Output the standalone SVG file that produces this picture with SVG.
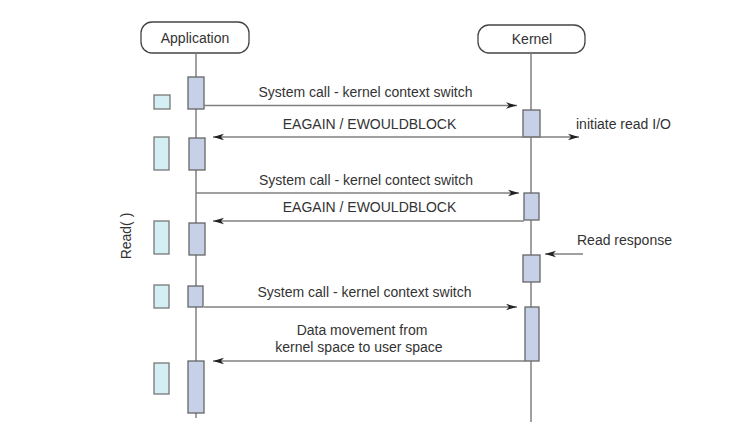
<svg xmlns="http://www.w3.org/2000/svg" width="734" height="433" viewBox="0 0 734 433">
<defs>
<style>
text{font-family:"Liberation Sans",Arial,sans-serif;font-size:14px;fill:#333}
.head{fill:#fff;stroke:#444;stroke-width:1.3}
.life{stroke:#808080;stroke-width:1.5;fill:none}
.act{fill:#c6d1e8;stroke:#666;stroke-width:1.3}
.idle{fill:#d4eff3;stroke:#777;stroke-width:1.3}
.msg{stroke:#808080;stroke-width:1.4;fill:none}
.mid{text-anchor:middle}
</style>
<marker id="arr" markerUnits="userSpaceOnUse" markerWidth="14" markerHeight="10" viewBox="-12 -5 14 10" refX="0" refY="0" orient="auto-start-reverse">
<path d="M0,0 L-11,-3.2 L-8,0 L-11,3.2 Z" fill="#222"/>
</marker>
</defs>
<rect width="734" height="433" fill="#fff"/>

<g id="application">
<rect class="head" x="141" y="22" width="108" height="31" rx="11"/>
<text class="mid" x="195" y="43">Application</text>
<line class="life" x1="196" y1="53" x2="196" y2="418"/>
</g>
<g id="kernel">
<rect class="head" x="478" y="25" width="107" height="28" rx="11"/>
<text class="mid" x="532" y="44">Kernel</text>
<line class="life" x1="531" y1="53" x2="531" y2="422"/>
</g>

<g id="app-activations">
<rect class="act" x="188" y="77" width="16" height="32"/>
<rect class="act" x="189" y="138" width="16" height="32"/>
<rect class="act" x="189" y="223" width="16" height="32"/>
<rect class="act" x="188" y="286" width="15" height="21"/>
<rect class="act" x="188" y="361" width="16" height="52"/>
</g>
<g id="idle-blocks">
<rect class="idle" x="154" y="95" width="16" height="14"/>
<rect class="idle" x="154" y="137" width="15" height="33"/>
<rect class="idle" x="154" y="221" width="15" height="33"/>
<rect class="idle" x="154" y="285" width="15" height="23"/>
<rect class="idle" x="154" y="363" width="15" height="31"/>
</g>
<g id="kernel-activations">
<rect class="act" x="523" y="110" width="17" height="27"/>
<rect class="act" x="524" y="193" width="15" height="27"/>
<rect class="act" x="523" y="255" width="17" height="27"/>
<rect class="act" x="525" y="307" width="14" height="54"/>
</g>

<g id="connectors">
<path class="msg" d="M204,105.5 H517" marker-end="url(#arr)"/>
<path class="msg" d="M213,137 H579" marker-start="url(#arr)" marker-end="url(#arr)"/>
<path class="msg" d="M196,193 H519" marker-end="url(#arr)"/>
<path class="msg" d="M524,221 H213" marker-end="url(#arr)"/>
<path class="msg" d="M583,254 H545" marker-end="url(#arr)"/>
<path class="msg" d="M204,307 H517" marker-end="url(#arr)"/>
<path class="msg" d="M525,361 H213" marker-end="url(#arr)"/>
</g>

<g id="labels">
<text class="mid" x="365.5" y="97">System call - kernel context switch</text>
<text class="mid" x="369.5" y="129">EAGAIN / EWOULDBLOCK</text>
<text x="576" y="129">initiate read I/O</text>
<text class="mid" x="366" y="185">System call - kernel contect switch</text>
<text class="mid" x="369.5" y="212">EAGAIN / EWOULDBLOCK</text>
<text x="577" y="245">Read response</text>
<text class="mid" x="364.5" y="297">System call - kernel context switch</text>
<text class="mid" x="362" y="335">Data movement from</text>
<text class="mid" x="359" y="352">kernel space to user space</text>
<text class="mid" transform="translate(131,236) rotate(-90)">Read( )</text>
</g>
</svg>
